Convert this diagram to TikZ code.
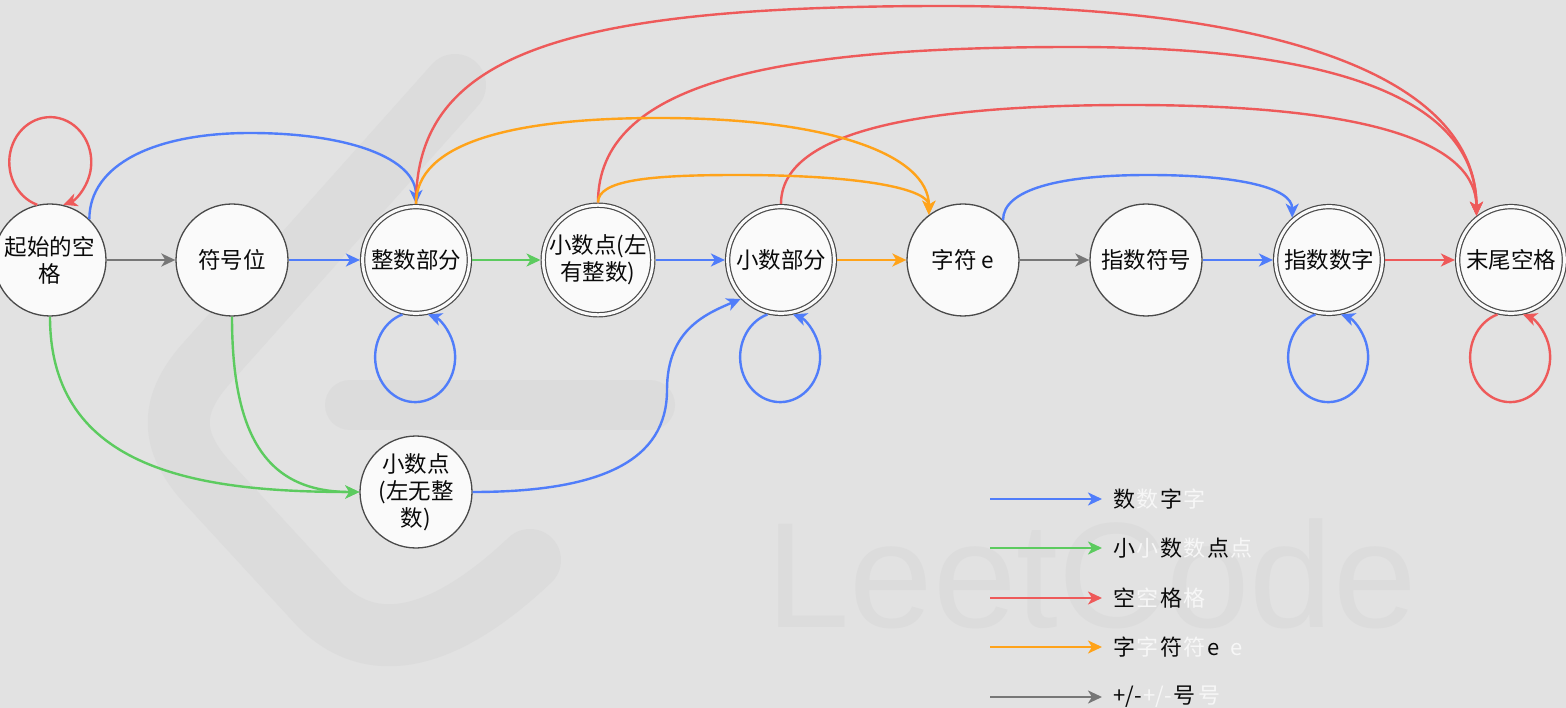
\documentclass[tikz,border=0pt]{standalone}
\usepackage{fontspec}
\setmainfont{Noto Sans CJK SC}
\newfontfamily\wmfont{Liberation Sans}
\usetikzlibrary{arrows.meta}
\definecolor{bgc}{HTML}{E2E2E2}
\definecolor{wmc}{HTML}{DCDCDC}
\definecolor{nfill}{HTML}{FAFAFA}
\definecolor{nline}{HTML}{4A4A4A}
\definecolor{cblue}{HTML}{507DFA}
\definecolor{cgreen}{HTML}{5CCB5F}
\definecolor{cred}{HTML}{EE5A5A}
\definecolor{corange}{HTML}{FFA31A}
\definecolor{cgray}{HTML}{777777}
\definecolor{ghost}{HTML}{F7F7F7}
\definecolor{txt}{HTML}{0A0A0A}
\newcommand\ghostc[1]{\hspace{1.5pt}\textcolor{ghost}{#1}\hspace{1.5pt}}
\begin{document}
\begin{tikzpicture}[x=1pt,y=-1pt,
  state/.style={circle,draw=nline,fill=nfill,line width=1.3pt,minimum size=112pt,
    inner sep=0pt,align=center,text=txt,font=\fontsize{22.5}{27}\selectfont},
  accst/.style={state,minimum size=106.8pt,double=nfill,double distance=3pt,
    line width=1.2pt,outer sep=2.7pt},
  edge/.style={line width=2.4pt,-{Stealth[length=14pt,width=13pt,inset=4pt]}},
  eblue/.style={edge,draw=cblue},
  egreen/.style={edge,draw=cgreen},
  ered/.style={edge,draw=cred},
  eorange/.style={edge,draw=corange},
  egray/.style={edge,draw=cgray},
  legtxt/.style={anchor=west,inner xsep=11pt,inner ysep=0pt,text=txt,
    font=\fontsize{22}{25}\selectfont},
  wmark/.style={draw=wmc,line cap=round,line join=round}
]
\useasboundingbox (0,0) rectangle (1566,708);
\fill[bgc] (0,0) rectangle (1566,708);

% faint watermark
\draw[wmark,line width=62pt] (455,85) -- (205,365) .. controls (170,405) and (170,440) .. (205,480)
   -- (320,605) .. controls (370,655) and (440,645) .. (530,560);
\draw[wmark,line width=50pt] (350,405) -- (650,405);
\node[anchor=base west,inner sep=0pt,text=wmc,font=\wmfont\fontsize{150}{150}\selectfont] (wm) at (766,627) {LeetCode};

% states
\node[state] (s0) at (50,260) {起始的空\\格};
\node[state] (sgn) at (232,260) {符号位};
\node[accst] (int) at (416,260) {整数部分};
\node[accst] (dotL) at (598,260) {小数点(左\\有整数)};
\node[accst] (frac) at (781,260) {小数部分};
\node[state] (ech) at (963,260) {字符 e};
\node[state] (esg) at (1146,260) {指数符号};
\node[accst] (exd) at (1329,260) {指数数字};
\node[accst] (endsp) at (1511,260) {末尾空格};
\node[state] (dotN) at (416,492) {小数点\\(左无整\\数)};

% straight transitions
\draw[egray] (s0) -- (sgn);
\draw[eblue] (sgn) -- (int);
\draw[egreen] (int) -- (dotL);
\draw[eblue] (dotL) -- (frac);
\draw[eorange] (frac) -- (ech);
\draw[egray] (ech) -- (esg);
\draw[eblue] (esg) -- (exd);
\draw[ered] (exd) -- (endsp);

% arcs above
\draw[eblue] (s0.46) .. controls +(0,-55) and +(-95,0) .. (250,133)
   .. controls +(100,0) and +(0,-45) .. (int.north);
\draw[ered] (int.north) .. controls +(0,-150) and +(-380,0) .. (944,6)
   .. controls +(330,0) and +(0,-140) .. (endsp.128);
\draw[ered] (dotL.north) .. controls +(0,-120) and +(-300,0) .. (1073,47)
   .. controls +(280,0) and +(0,-110) .. (endsp.128);
\draw[ered] (frac.north) .. controls +(0,-70) and +(-220,0) .. (1130,105)
   .. controls +(250,0) and +(0,-70) .. (endsp.128);
\draw[eorange] (int.north) .. controls +(0,-60) and +(-150,0) .. (659,118)
   .. controls +(170,0) and +(0,-60) .. (ech.127);
\draw[eorange] (dotL.north) .. controls +(0,-22) and +(-90,0) .. (737,175)
   .. controls +(130,0) and +(0,-25) .. (ech.127);
\draw[eblue] (ech.45) .. controls +(0,-30) and +(-90,0) .. (1148,175)
   .. controls +(90,0) and +(0,-30) .. (exd.131);

% lower transitions
\draw[egreen] (s0.south) .. controls +(0,154) and +(-160,0) .. (dotN.west);
\draw[egreen] (sgn.south) .. controls +(0,124) and +(-90,0) .. (dotN.west);
\draw[eblue] (dotN.east) .. controls +(130,0) and +(0,70) .. (667,390)
   .. controls +(0,-60) and +(-35,15) .. (frac.224);

% self loops
\draw[ered] (s0.103) arc[start angle=251.5, end angle=-71.5, x radius=41pt, y radius=45pt];
\draw[eblue] (int.256) arc[start angle=108.5, end angle=431.5, x radius=40pt, y radius=45pt];
\draw[eblue] (frac.256) arc[start angle=108.5, end angle=431.5, x radius=40pt, y radius=45pt];
\draw[eblue] (exd.256) arc[start angle=108.5, end angle=431.5, x radius=40pt, y radius=45pt];
\draw[ered] (endsp.256) arc[start angle=108.5, end angle=431.5, x radius=40pt, y radius=45pt];

% legend
\coordinate (l1) at (990,499);
\coordinate (l2) at (990,548);
\coordinate (l3) at (990,598);
\coordinate (l4) at (990,647);
\coordinate (l5) at (990,697);
\node[legtxt] (t1) at (1102,499) {数\ghostc{数}字\ghostc{字}};
\node[legtxt] (t2) at (1102,548) {小\ghostc{小}数\ghostc{数}点\ghostc{点}};
\node[legtxt] (t3) at (1102,598) {空\ghostc{空}格\ghostc{格}};
\node[legtxt] (t4) at (1102,647) {字\ghostc{字}符\ghostc{符}e\hspace{10pt}\ghostc{e}};
\node[legtxt] (t5) at (1102,697) {+/-\ghostc{+/-}号\hspace{2pt}\ghostc{号}};
\draw[eblue,line width=2.5pt] (l1) -- (t1.west);
\draw[egreen,line width=2.5pt] (l2) -- (t2.west);
\draw[ered,line width=2.5pt] (l3) -- (t3.west);
\draw[eorange,line width=2.5pt] (l4) -- (t4.west);
\draw[egray,line width=2.5pt] (l5) -- (t5.west);
\end{tikzpicture}
\end{document}
